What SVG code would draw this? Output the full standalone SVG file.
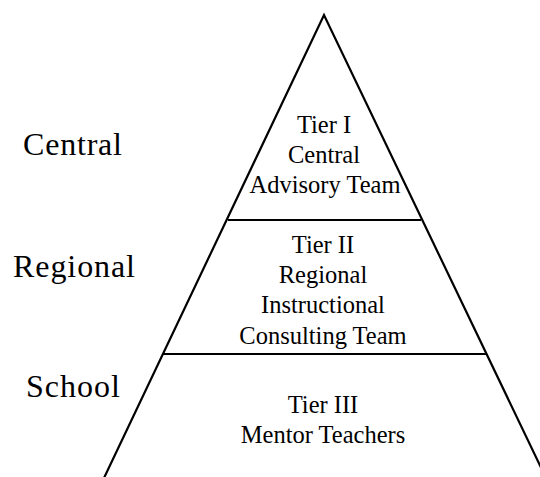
<svg xmlns="http://www.w3.org/2000/svg" width="540" height="477" viewBox="0 0 540 477">
  <style>
    .edge { fill: none; stroke: #000; stroke-width: 2.2; stroke-linecap: butt; }
    .tier { fill: none; stroke: #000; stroke-width: 2; }
    .level { font-family: "Liberation Serif", "Times New Roman", serif; font-size: 32px; fill: #000; }
    .label { font-family: "Liberation Serif", "Times New Roman", serif; font-size: 24.5px; fill: #000; text-anchor: middle; }
  </style>
  <rect width="540" height="477" fill="#fff"/>

  <!-- pyramid outline and tier dividers -->
  <g id="pyramid">
    <polyline class="edge" points="104,478 324,15 546,478"/>
    <line class="tier" x1="228" y1="220" x2="421" y2="220"/>
    <line class="tier" x1="163" y1="354" x2="486" y2="354"/>
  </g>

  <!-- level names on the left -->
  <g id="levels">
    <text class="level" x="23" y="155" textLength="99" lengthAdjust="spacing">Central</text>
    <text class="level" x="13" y="277" textLength="122" lengthAdjust="spacing">Regional</text>
    <text class="level" x="26" y="397" textLength="94" lengthAdjust="spacing">School</text>
  </g>

  <g id="tier1">
    <text class="label" x="324" y="133">Tier I</text>
    <text class="label" x="324" y="163">Central</text>
    <text class="label" x="325" y="193">Advisory Team</text>
  </g>

  <g id="tier2">
    <text class="label" x="323" y="253">Tier II</text>
    <text class="label" x="323" y="283">Regional</text>
    <text class="label" x="323" y="313">Instructional</text>
    <text class="label" x="323" y="344">Consulting Team</text>
  </g>

  <g id="tier3">
    <text class="label" x="323" y="413">Tier III</text>
    <text class="label" x="323" y="443">Mentor Teachers</text>
  </g>
</svg>
